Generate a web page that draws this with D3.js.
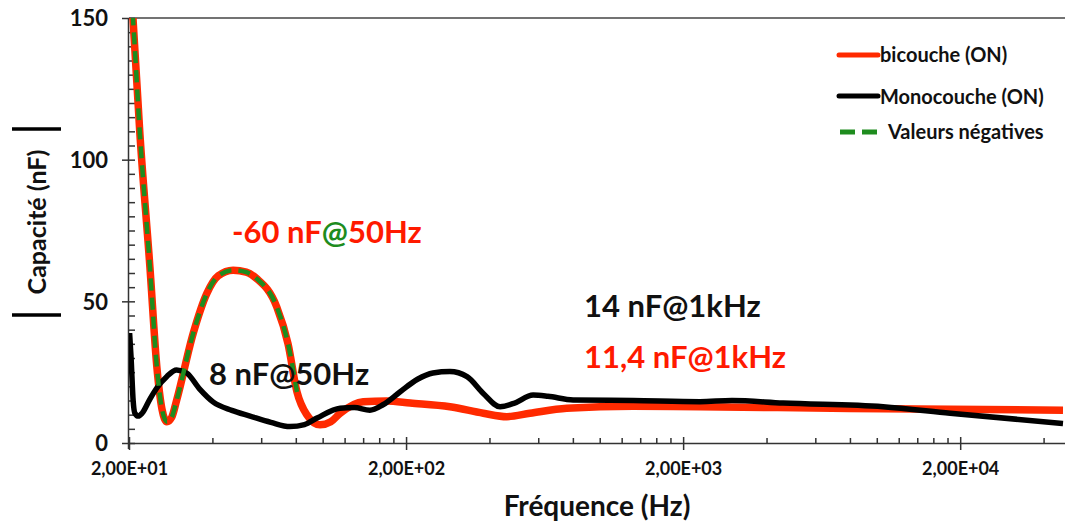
<!DOCTYPE html>
<html><head><meta charset="utf-8">
<script src="https://cdn.jsdelivr.net/npm/d3@7"></script>
<style>
html,body{margin:0;padding:0;background:#fff;}
svg{display:block;font-family:Lato,"Open Sans",sans-serif;}
</style></head>
<body>
<svg id="chart" width="1065" height="524"></svg>
<script>
// ---- data ----
const bicoucheFreq = [20.17,20.67,21.9,23.8,25.2,26.3,27.4,28.5,29.7,34.1,38.2,42,47.5,53,57.8,68.3,75,80.8,87.6,97.8,107,115.6,140,170,207,288,380,462,560,760,1320,2300,8000,47000];
const bicoucheVal  = [165,150,109,62,27,12,7.5,9,15,38.7,52.8,59,61,60.3,58,48,35,18,10,6.4,7.5,10.5,14.6,14.8,14.1,12.8,10.5,9.3,10.5,12.3,13,12.8,12.2,11.6];
const negFreq = [20.17,20.67,21.9,23.8,25.2,26.3,27.4,28.5,29.7,34.1,38.2,42,47.5,53,57.8,68.3,75,80.8];
const negVal  = [165,150,109,62,27,12,7.5,9,15,38.7,52.8,59,61,60.3,58,48,35,18];
const monoFreq = [20.1,20.35,20.7,21.0,21.6,22.3,23.8,25.2,27.4,29.7,32.3,36,40.2,47,54.7,65,76.2,86,95.4,115.6,130,148,165,190,220,250,288,332,380,437,490,575,650,802,1320,2300,3000,4590,10540,18400,47000];
const monoVal  = [38.8,30,15,10.5,9.5,10.5,15.5,19.4,23.5,25.8,24.7,19,14.5,11.5,9.5,7.3,5.8,6.5,8.8,12.3,12.5,11.6,13.5,18,22.5,24.7,25.2,23.4,17.5,12.8,14,16.9,16.5,15.2,15,14.6,15,14.1,12.8,10.5,6.9];
const xTickValues = [20,200,2000,20000];
const xTickLabels = ["2,00E+01","2,00E+02","2,00E+03","2,00E+04"];
const yTickValues = [0,50,100,150];
const yTickLabels = ["0","50","100","150"];
const legendLabels = ["bicouche (ON)","Monocouche (ON)","Valeurs négatives"];

// ---- layout ----
const svg = d3.select("#chart");
const L = 129, R = 1063, T = 18, B = 443;
const x = d3.scaleLog().domain([20,47000]).range([L,R]);
const y = d3.scaleLinear().domain([0,150]).range([B,T]);

const RED = "#ff2a00", BLACK = "#000", GREEN = "#1e8c1e";

svg.append("defs").append("clipPath").attr("id","clip")
  .append("rect").attr("x",L).attr("y",T).attr("width",R-L+2).attr("height",B-T);

// top border
svg.append("line").attr("x1",L).attr("x2",1065).attr("y1",T).attr("y2",T)
  .attr("stroke","#444").attr("stroke-width",1.5);

// minor ticks x
const xMinor = [];
[20,200,2000,20000].forEach(b=>{for(let k=2;k<=9;k++){const v=b*k; if(v<47000) xMinor.push(v);}});
const gxm = svg.append("g").attr("transform",`translate(0,${B})`)
  .call(d3.axisTop(x).tickValues(xMinor.filter(v=>!xTickValues.includes(v))).tickSize(5).tickFormat(""));
gxm.select(".domain").remove();
gxm.selectAll("line").attr("stroke","#333").attr("stroke-width",1.5);

// major x axis
const gx = svg.append("g").attr("transform",`translate(0,${B})`)
  .call(d3.axisBottom(x).tickValues(xTickValues).tickSize(7).tickFormat((d,i)=>xTickLabels[i]));
gx.select(".domain").attr("stroke","#333").attr("stroke-width",1.5).attr("d",`M${L},0.5H${R+2}`);
gx.selectAll(".tick line").attr("y1",-6).attr("y2",7).attr("stroke","#333").attr("stroke-width",1.5);
gx.selectAll(".tick text").attr("y",32).attr("dy",0).attr("fill","#111")
  .style("font-size","18px").style("font-weight","700").style("font-family","Lato");

// minor y ticks
const yMinor = d3.range(5,150,5).filter(v=>v%50!==0);
const gym = svg.append("g").attr("transform",`translate(${L},0)`)
  .call(d3.axisRight(y).tickValues(yMinor).tickSize(6).tickFormat(""));
gym.select(".domain").remove();
gym.selectAll("line").attr("stroke","#333").attr("stroke-width",1.5);

// major y axis
const gy = svg.append("g").attr("transform",`translate(${L},0)`)
  .call(d3.axisLeft(y).tickValues(yTickValues).tickSize(7).tickFormat((d,i)=>yTickLabels[i]));
gy.select(".domain").attr("stroke","#333").attr("stroke-width",1.5).attr("d",`M-0.5,${B+6}V${T}`);
gy.selectAll(".tick text").attr("x",-21).attr("dy","0.36em").attr("fill","#111")
  .style("font-size","22px").style("font-weight","700").style("font-family","Lato");
gy.selectAll(".tick line").attr("x1",-7).attr("x2",6).attr("stroke","#333").attr("stroke-width",1.5);

// curves
const line = d3.line().x(d=>x(d[0])).y(d=>y(d[1])).curve(d3.curveMonotoneX);
const zip = (a,b)=>a.map((v,i)=>[v,b[i]]);
const plot = svg.append("g").attr("clip-path","url(#clip)");
plot.append("path").datum(zip(bicoucheFreq,bicoucheVal)).attr("d",line)
  .attr("fill","none").attr("stroke",RED).attr("stroke-width",7.5).attr("stroke-linejoin","round");
plot.append("path").datum(zip(monoFreq,monoVal)).attr("d",line)
  .attr("fill","none").attr("stroke",BLACK).attr("stroke-width",5.5).attr("stroke-linejoin","round");
plot.append("path").datum(zip(negFreq,negVal)).attr("d",line)
  .attr("fill","none").attr("stroke",GREEN).attr("stroke-width",4.5).attr("stroke-dasharray","12,7");

// axis titles
svg.append("text").attr("transform","translate(46,222) rotate(-90)").attr("text-anchor","middle")
  .style("font-size","25px").style("font-weight","700").attr("fill","#111").text("Capacité (nF)");
svg.append("line").attr("x1",12).attr("x2",61).attr("y1",129).attr("y2",129).attr("stroke","#000").attr("stroke-width",3.5);
svg.append("line").attr("x1",12).attr("x2",61).attr("y1",315).attr("y2",315).attr("stroke","#000").attr("stroke-width",3.5);
svg.append("text").attr("x",597).attr("y",516).attr("text-anchor","middle")
  .style("font-size","28px").style("font-weight","700").attr("fill","#111").text("Fréquence (Hz)");

// annotations
const ann = svg.append("g").style("font-size","31px").style("font-weight","700");
const t1 = ann.append("text").attr("x",232).attr("y",243).attr("fill","#ff1a00");
t1.append("tspan").text("-60 nF");
t1.append("tspan").attr("fill",GREEN).text("@");
t1.append("tspan").text("50Hz");
ann.append("text").attr("x",209).attr("y",385).attr("fill","#111").text("8 nF@50Hz");
ann.append("text").attr("x",584).attr("y",317).attr("fill","#111").text("14 nF@1kHz");
ann.append("text").attr("x",584).attr("y",368).attr("fill","#ff1a00").text("11,4 nF@1kHz");

// legend
const lg = svg.append("g").style("font-size","20px").style("font-weight","700");
lg.append("line").attr("x1",839).attr("x2",878).attr("y1",55).attr("y2",55).attr("stroke",RED).attr("stroke-width",5).attr("stroke-linecap","round");
lg.append("text").attr("x",880).attr("y",62).attr("fill","#111").text(legendLabels[0]);
lg.append("line").attr("x1",839).attr("x2",878).attr("y1",96).attr("y2",96).attr("stroke",BLACK).attr("stroke-width",5).attr("stroke-linecap","round");
lg.append("text").attr("x",880).attr("y",104).attr("fill","#111").text(legendLabels[1]);
lg.append("line").attr("x1",840).attr("x2",880).attr("y1",132).attr("y2",132).attr("stroke",GREEN).attr("stroke-width",5).attr("stroke-dasharray","15,7");
lg.append("text").attr("x",888).attr("y",139).attr("fill","#111").text(legendLabels[2]);
</script>
</body></html>
